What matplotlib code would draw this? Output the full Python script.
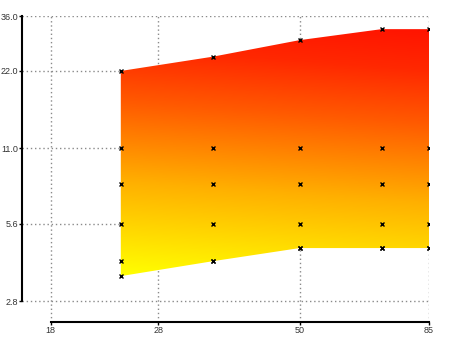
import numpy as np
import matplotlib
matplotlib.use("Agg")
import matplotlib.pyplot as plt
from matplotlib.colors import LinearSegmentedColormap
from matplotlib.patches import Polygon

# Sample positions and band limits
x_vals = [24, 35, 50, 70, 85]
upper = [22.0, 25.0, 29.0, 32.0, 32.0]
lower = [3.5, 4.0, 4.5, 4.5, 4.5]
level_11 = [11.0, 11.0, 11.0, 11.0, 11.0]
level_8 = [8.0, 8.0, 8.0, 8.0, 8.0]
level_56 = [5.6, 5.6, 5.6, 5.6, 5.6]
level_4 = [4.0, 4.0, 4.5, 4.5, 4.5]

x_ticks = [18, 28, 50, 85]
x_tick_labels = ["18", "28", "50", "85"]
y_ticks = [2.8, 5.6, 11.0, 22.0, 36.0]
y_tick_labels = ["2.8", "5.6", "11.0", "22.0", "36.0"]

W, H = 450, 337
fig = plt.figure(figsize=(W / 100, H / 100), dpi=100)
ax = fig.add_axes([22 / W, 15 / H, (429 - 22) / W, (322 - 16) / H])
ax.set_xscale("log")
ax.set_yscale("log")
ax.set_xlim(16, 85)
ax.set_ylim(2.32, 36)

# Band outline as polygon in data space
xs = np.array(x_vals, dtype=float)
poly_pts = np.vstack([np.column_stack([xs, upper]),
                      np.column_stack([xs[::-1], np.array(lower)[::-1]])])
band = Polygon(poly_pts, closed=True, facecolor="none", edgecolor="none",
               transform=ax.transData)
ax.add_patch(band)

# Yellow-to-red gradient, mostly vertical with a slight diagonal tilt
ny, nx = 400, 400
gx, gy = np.meshgrid(np.linspace(0, 1, nx), np.linspace(0, 1, ny))
px = 22 + gx * (429 - 22)
py = 322 - gy * (322 - 16)
t = ((276 - py) + 0.07 * (px - 121)) / (247 + 0.07 * 308)
t = np.clip(t, 0, 1)
cmap = LinearSegmentedColormap.from_list(
    "band", [(0.0, "#ffff00"), (0.35, "#ffb000"), (0.65, "#ff5a00"),
             (0.85, "#ff2800"), (1.0, "#ff1400")])
img = ax.imshow(t, cmap=cmap, vmin=0, vmax=1, origin="lower",
                extent=[0, 1, 0, 1], transform=ax.transAxes,
                aspect="auto", interpolation="bilinear", zorder=1)
img.set_clip_path(band)

# Sample markers
for ys in (upper, level_11, level_8, level_56, level_4, lower):
    ax.plot(x_vals, ys, linestyle="none", marker="x", markersize=2.6,
            markeredgewidth=1.0, color="black", zorder=3)

# Grid and axes styling
ax.set_xticks(x_ticks)
ax.set_xticklabels(x_tick_labels)
ax.set_yticks(y_ticks)
ax.set_yticklabels(y_tick_labels)
ax.minorticks_off()
ax.grid(True, which="major", color="#8a8a8a", linestyle=(0, (1, 2)),
        linewidth=1.0, zorder=0)
ax.set_axisbelow(True)

for side in ("top", "right"):
    ax.spines[side].set_visible(False)
ax.spines["left"].set_bounds(2.8, 36)
ax.spines["bottom"].set_bounds(18, 85)
ax.spines["left"].set_linewidth(1.5)
ax.spines["bottom"].set_linewidth(1.5)

ax.tick_params(axis="both", direction="out", length=2, width=1.0,
               colors="black", labelcolor="#333333", labelsize=6.5, pad=1)
for lab in ax.get_xticklabels() + ax.get_yticklabels():
    lab.set_family("Liberation Sans")

fig.savefig("out.png", dpi=100)
